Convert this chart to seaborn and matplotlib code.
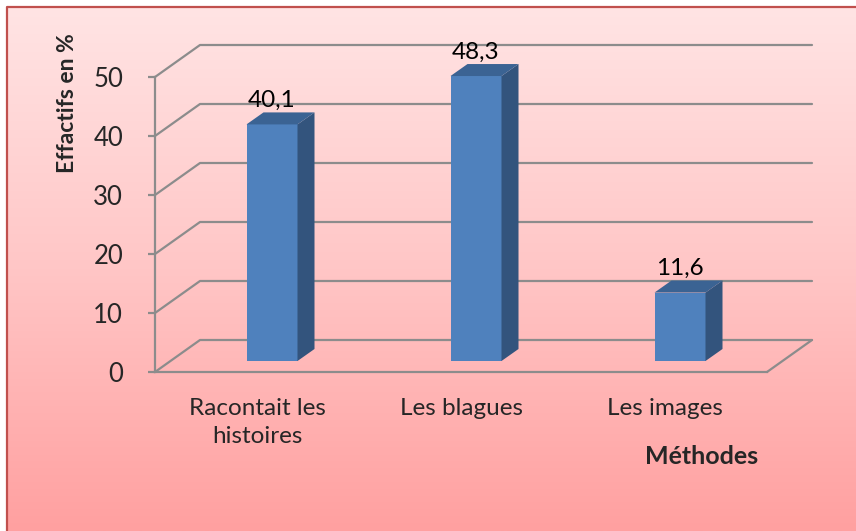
import numpy as np
import pandas as pd
import matplotlib.pyplot as plt
import matplotlib.transforms as mtransforms
from matplotlib.patches import Polygon
from matplotlib.colors import LinearSegmentedColormap
import seaborn as sns

methodes = ["Racontait les\nhistoires", "Les blagues", "Les images"]
effectifs = [40.1, 48.3, 11.6]
etiquettes = ["40,1", "48,3", "11,6"]
graduations = [0, 10, 20, 30, 40, 50]

df = pd.DataFrame({"Méthodes": methodes, "Effectifs": effectifs})

sns.set_style("white")
plt.rcParams["font.family"] = ["Lato", "DejaVu Sans"]

W, H = 856, 531
fig = plt.figure(figsize=(W / 100, H / 100), dpi=100)
fig.patch.set_facecolor("white")

# fond en degrade rose + cadre
bg = fig.add_axes([0, 0, 1, 1], zorder=-10)
bg.set_xlim(0, 1)
bg.set_ylim(0, 1)
bg.set_axis_off()
rose = LinearSegmentedColormap.from_list("rose", ["#FFE4E4", "#FFC6C6", "#FFA0A0"])
bg.imshow(np.linspace(0, 1, 256)[:, None], aspect="auto", cmap=rose,
          extent=[7 / W, 1, 0, 1 - 7 / H])
bg.plot([7 / W, 7 / W, 1], [0, 1 - 7 / H, 1 - 7 / H], color="#C0504D", lw=1.6)

gris = "#8C8C8C"
ax = fig.add_axes([155 / W, 159 / H, 612 / W, 295 / H])
sns.barplot(data=df, x="Méthodes", y="Effectifs", color="#4F81BD",
            saturation=1, width=0.25, linewidth=0, ax=ax, zorder=3)
ax.set_xlim(-0.5, 2.5)
ax.set_ylim(0, 50)
ax.patch.set_visible(False)

# conversion pixels -> unites de donnees
ux = ax.bbox.width / 3
uy = ax.bbox.height / 50
fond_dx, fond_dy = 45 / ux, 32 / uy     # mur du fond
prof_dx, prof_dy = 17 / ux, 12 / uy     # profondeur des barres

# quadrillage en perspective
for y in graduations:
    ax.plot([-0.5, -0.5 + fond_dx, 2.5 + fond_dx], [y, y + fond_dy, y + fond_dy],
            color=gris, lw=1.6, clip_on=False, zorder=1)
ax.plot([2.5, 2.5 + fond_dx], [0, fond_dy], color=gris, lw=1.6, clip_on=False, zorder=1)

# barres en 3D
decal = mtransforms.ScaledTranslation(15 / 100, 11 / 100, fig.dpi_scale_trans)
tr = ax.transData + decal
for p, txt in zip(ax.patches, etiquettes):
    x0, w, h = p.get_x(), p.get_width(), p.get_height()
    p.set_transform(tr)
    p.set_edgecolor("none")
    cote = Polygon([(x0 + w, 0), (x0 + w + prof_dx, prof_dy),
                    (x0 + w + prof_dx, h + prof_dy), (x0 + w, h)],
                   closed=True, facecolor="#33547D", edgecolor="none",
                   transform=tr, zorder=3, clip_on=False)
    dessus = Polygon([(x0, h), (x0 + prof_dx, h + prof_dy),
                      (x0 + w + prof_dx, h + prof_dy), (x0 + w, h)],
                     closed=True, facecolor="#3B6393", edgecolor="none",
                     transform=tr, zorder=3, clip_on=False)
    ax.add_patch(cote)
    ax.add_patch(dessus)
    p.set_clip_on(False)
    ax.annotate(txt, xy=(x0 + w / 2, h), xytext=(15, 35), textcoords="offset pixels",
                ha="center", va="center", fontsize=17.5, color="black", zorder=5)

for s in ["top", "right"]:
    ax.spines[s].set_visible(False)
for s in ["left", "bottom"]:
    ax.spines[s].set_color(gris)
    ax.spines[s].set_linewidth(1.6)
ax.set_yticks(graduations)
ax.set_xticks(range(len(methodes)), methodes, linespacing=1.45)
ax.tick_params(axis="y", left=True, length=5, width=1.6, color=gris,
               labelsize=18.5, pad=18)
ax.tick_params(axis="x", bottom=False, labelsize=17.5, pad=15)
ax.grid(False)

ax.set_ylabel("Effactifs en %", fontsize=16.5, fontweight="bold")
ax.yaxis.label.set_va("center")
ax.yaxis.set_label_coords((68 - 155) / 612, (372 - 103) / 295)
ax.set_xlabel("Méthodes", fontsize=18, fontweight="bold")
ax.xaxis.label.set_va("center")
ax.xaxis.set_label_coords((702 - 155) / 612, (372 - 457) / 295)

fig.savefig("out.png", dpi=100)
